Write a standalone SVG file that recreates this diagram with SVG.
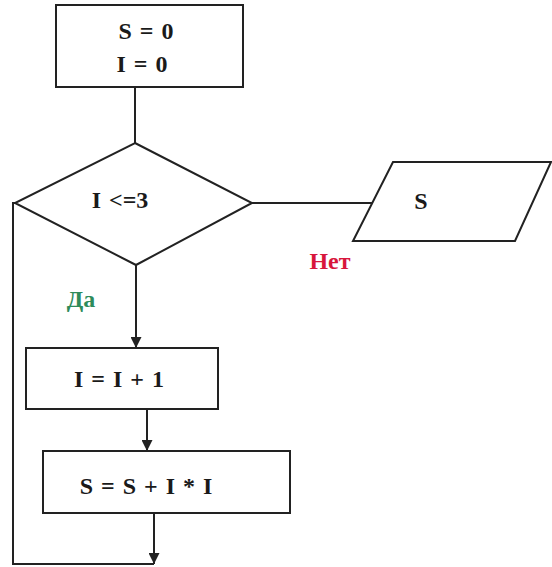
<svg xmlns="http://www.w3.org/2000/svg" width="552" height="567" viewBox="0 0 552 567">
<defs>
<style>
.s{fill:#fff;stroke:#222;stroke-width:2}
.l{fill:none;stroke:#222;stroke-width:2}
.t{font-family:"Liberation Serif","Times New Roman",serif;font-weight:bold;font-size:24px;fill:#1a1a1a;text-anchor:middle;word-spacing:2px}
</style>
<marker id="a" viewBox="0 0 10 10" refX="10" refY="5" markerWidth="11" markerHeight="11" markerUnits="userSpaceOnUse" orient="auto">
<path d="M0,0 L10,5 L0,10 Z" fill="#222"/>
</marker>
</defs>
<rect width="552" height="567" fill="#fff"/>
<g id="connectors">
<line class="l" x1="135" y1="87" x2="135" y2="143"/>
<line class="l" x1="136" y1="265" x2="136" y2="348" marker-end="url(#a)"/>
<line class="l" x1="147" y1="409" x2="147" y2="451" marker-end="url(#a)"/>
<line class="l" x1="154" y1="513" x2="154" y2="564" marker-end="url(#a)"/>
<polyline class="l" points="154,564 13,564 13,203 15,203"/>
<line class="l" x1="252" y1="203" x2="372" y2="203"/>
<text x="330" y="269" class="t" style="fill:#d8163c">Нет</text>
<text x="81" y="307" class="t" style="fill:#2e8b5a">Да</text>
</g>
<g id="init">
<rect class="s" x="56" y="5" width="187" height="82"/>
<text x="146" y="39" class="t">S = 0</text>
<text x="142" y="72" class="t">I = 0</text>
</g>
<g id="cond">
<polygon class="s" points="135,143 252,203 136,265 15,203"/>
<text x="120" y="208" class="t">I &lt;=3</text>
</g>
<g id="output">
<polygon class="s" points="393,162 551,162 515,241 353,241"/>
<text x="421" y="209" class="t">S</text>
</g>
<g id="inc">
<rect class="s" x="26" y="348" width="192" height="61"/>
<text x="119" y="387" class="t">I = I + 1</text>
</g>
<g id="sum">
<rect class="s" x="43" y="451" width="247" height="62"/>
<text x="146" y="494" class="t">S = S + I * I</text>
</g>
</svg>
